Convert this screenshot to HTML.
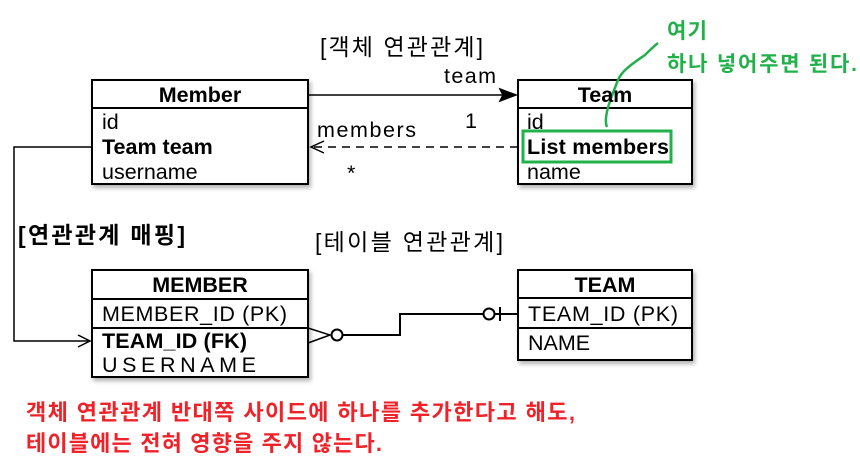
<!DOCTYPE html>
<html><head><meta charset="utf-8"><style>
body{margin:0;background:#fff;}
svg text{font-family:"Liberation Sans","Noto Sans CJK KR",sans-serif;}
</style></head><body>
<svg width="860" height="467" viewBox="0 0 860 467" xmlns="http://www.w3.org/2000/svg">
<defs><filter id="sh" x="-5%" y="-5%" width="115%" height="120%"><feDropShadow dx="2" dy="3" stdDeviation="2" flood-color="#000" flood-opacity="0.3"/></filter></defs>
<g fill="none" stroke="#000" stroke-width="2">
<rect x="92" y="80" width="216" height="104" fill="#fff" filter="url(#sh)"/>
<line x1="92" y1="108" x2="308" y2="108"/>
<rect x="518" y="80" width="174" height="104" fill="#fff" filter="url(#sh)"/>
<line x1="518" y1="108" x2="692" y2="108"/>
<rect x="92" y="270" width="216" height="107" fill="#fff" filter="url(#sh)"/>
<line x1="92" y1="299" x2="308" y2="299"/>
<line x1="92" y1="328" x2="308" y2="328"/>
<rect x="518" y="270" width="174" height="90" fill="#fff" filter="url(#sh)"/>
<line x1="518" y1="298" x2="692" y2="298"/>
<line x1="518" y1="328" x2="692" y2="328"/>
</g>
<g stroke="#000" stroke-width="1.5" fill="none">
<line x1="308" y1="95" x2="512" y2="95"/>
<polygon points="516,95 500,89 503,95 500,101" fill="#000"/>
<line x1="518" y1="147" x2="312" y2="147" stroke-dasharray="8,6"/>
<polyline points="324,141 311,147 324,153"/>
<polyline points="92,147 14,147 14,341 88,341"/>
<polyline points="78,335 90,341 78,347"/>
<polyline points="308,328 330,335 308,343"/>
<circle cx="337" cy="335" r="5.5" stroke-width="2"/>
<polyline points="343,335 400,335 400,314 484,314" stroke-width="2"/>
<circle cx="489" cy="314" r="5.5" stroke-width="2"/>
<line x1="494" y1="314" x2="518" y2="314" stroke-width="2"/>
<line x1="500" y1="307" x2="500" y2="321" stroke-width="2"/>
</g>
<rect x="523" y="131" width="148" height="31" fill="none" stroke="#22b04a" stroke-width="3"/>
<path d="M607,127 C603,118 610,100 618,80 C622,70 635,62 645,55 C650,50 654,46 658,43" fill="none" stroke="#22b04a" stroke-width="2.5"/>
<g font-size="21.5" fill="#000">
<text x="200" y="102" text-anchor="middle" font-weight="bold">Member</text>
<text x="102" y="129">id</text>
<text x="102" y="154" font-weight="bold">Team team</text>
<text x="102" y="179">username</text>
<text x="605" y="102" text-anchor="middle" font-weight="bold">Team</text>
<text x="527" y="129">id</text>
<text x="527" y="154" font-weight="bold" textLength="142">List members</text>
<text x="527" y="179">name</text>
<text x="200" y="292" text-anchor="middle" font-weight="bold">MEMBER</text>
<text x="102" y="321" textLength="185">MEMBER_ID (PK)</text>
<text x="102" y="348" font-weight="bold" textLength="145">TEAM_ID (FK)</text>
<text x="102" y="372" textLength="154">USERNAME</text>
<text x="605" y="292" text-anchor="middle" font-weight="bold">TEAM</text>
<text x="528" y="321" textLength="150">TEAM_ID (PK)</text>
<text x="528" y="350">NAME</text>
<text x="320" y="55" font-size="23" textLength="163">[객체 연관관계]</text>
<text x="315" y="250" font-size="23" textLength="188">[테이블 연관관계]</text>
<text x="18" y="243" font-weight="bold" font-size="23" textLength="167">[연관관계 매핑]</text>
<text x="444" y="83" textLength="52">team</text>
<text x="465" y="128">1</text>
<text x="317" y="137" textLength="99">members</text>
<text x="347" y="180">*</text>
</g>
<g font-size="21" fill="#22b04a" font-weight="bold">
<text x="667" y="38" textLength="40">여기</text>
<text x="667" y="71" textLength="190">하나 넣어주면 된다.</text>
</g>
<g font-size="22" fill="#ee2228" font-weight="bold">
<text x="26" y="420" textLength="549">객체 연관관계 반대쪽 사이드에 하나를 추가한다고 해도,</text>
<text x="26" y="451" textLength="356">테이블에는 전혀 영향을 주지 않는다.</text>
</g>
</svg>
</body></html>
